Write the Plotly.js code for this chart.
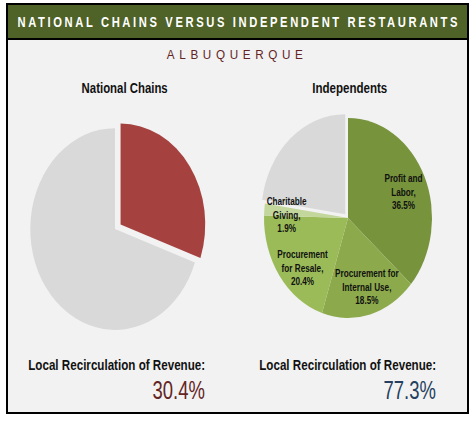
<!DOCTYPE html>
<html>
<head>
<meta charset="utf-8">
<script src="https://cdn.plot.ly/plotly-3.0.1.min.js"></script>
<style>
  html, body { margin: 0; padding: 0; background: #ffffff; }
  #chart { width: 474px; height: 423px; }
</style>
</head>
<body>
<div id="chart"></div>
<script>
// National chains: local share vs rest
var chainLabels = ["Local Recirculation", "Leaves Local Economy"];
var chainValues = [30.4, 69.6];
var chainColors = ["#a5423f", "#d9d9d9"];

// Independents, clockwise from 12 o'clock
var indieLabels = ["Profit and Labor", "Procurement for Internal Use", "Procurement for Resale", "Charitable Giving", "Leaves Local Economy"];
var indieValues = [36.5, 18.5, 20.4, 1.9, 22.7];
var indieColors = ["#77933c", "#8caa4c", "#9bbb59", "#c3d69b", "#d9d9d9"];
// how each slice label is broken into lines on the slide
var indieLabelLines = ["Profit and<br>Labor,", "Procurement for<br>Internal Use,", "Procurement<br>for Resale,", "Charitable<br>Giving,", ""];

var chainTotal = "30.4%";
var indieTotal = "77.3%";

var font = "Liberation Sans, Arial, sans-serif";
var W = 474, H = 423;
function px(x) { return x / W; }
function py(y) { return 1 - y / H; }

var chainsTrace = {
  type: "pie",
  labels: chainLabels,
  values: chainValues,
  marker: { colors: chainColors, line: { width: 0 } },
  sort: false,
  direction: "clockwise",
  rotation: 0,
  pull: [0.08, 0],
  textinfo: "none",
  hoverinfo: "label+value",
  domain: { x: [0.0127, 0.4726], y: [0.201, 0.716] },
  showlegend: false
};

var indieTrace = {
  type: "pie",
  labels: indieLabels,
  values: indieValues,
  textinfo: "none",
  marker: { colors: indieColors, line: { width: 0 } },
  sort: false,
  direction: "clockwise",
  rotation: 0,
  pull: [0, 0, 0, 0, 0.05],
  hoverinfo: "label+value",
  domain: { x: [0.5127, 0.9557], y: [0.2364, 0.7329] },
  showlegend: false
};

// the slide's pies are stretched upright; squeeze them around their centres
var pieCentres = [115, 348];
var pieSqueeze = 0.84;

// annotations plus a horizontal squeeze for each (the slide uses a narrow font)
var annotations = [];
var squeeze = [];
var origins = [];
function addText(text, x, y, anchor, size, color, sq) {
  annotations.push({ text: text, xref: "paper", yref: "paper", x: px(x), y: py(y),
    showarrow: false, xanchor: anchor, yanchor: "middle",
    font: { family: font, size: size, color: color } });
  squeeze.push(sq);
  origins.push(anchor === "right" ? "right center" : "center");
}

addText("<b>NATIONAL CHAINS VERSUS INDEPENDENT RESTAURANTS</b>", 237, 22, "center", 14, "#ffffff", 0.8);
addText("ALBUQUERQUE", 235, 55, "center", 13, "#632523", 0.9);
addText("<b>National Chains</b>", 124, 88, "center", 15, "#111111", 0.76);
addText("<b>Independents</b>", 350, 88, "center", 15, "#111111", 0.77);

// slice labels on the independents pie
var sliceSpots = [[403, 191], [367, 286], [302, 267], [287, 215]];
for (var i = 0; i < sliceSpots.length; i++) {
  addText("<b>" + indieLabelLines[i] + "<br>" + indieValues[i].toFixed(1) + "%</b>",
    sliceSpots[i][0], sliceSpots[i][1], "center", 10.5, "#111111", 0.78);
}

addText("<b>Local Recirculation of Revenue:</b>", 207, 365, "right", 14, "#111111", 0.83);
addText("<b>Local Recirculation of Revenue:</b>", 438, 365, "right", 14, "#111111", 0.83);
addText(chainTotal, 207, 390, "right", 25, "#632523", 0.74);
addText(indieTotal, 438, 390, "right", 25, "#243f60", 0.74);

var layout = {
  width: W,
  height: H,
  margin: { l: 0, r: 0, t: 0, b: 0 },
  paper_bgcolor: "#ffffff",
  plot_bgcolor: "rgba(0,0,0,0)",
  font: { family: font },
  shapes: [
    // panel
    { type: "rect", xref: "paper", yref: "paper", layer: "below",
      x0: px(7), x1: px(468), y0: py(413), y1: py(4),
      fillcolor: "#f2f2f2", line: { color: "#000000", width: 2 } },
    // header band
    { type: "rect", xref: "paper", yref: "paper", layer: "below",
      x0: px(7), x1: px(468), y0: py(39), y1: py(4),
      fillcolor: "#4f6228", line: { color: "#000000", width: 2 } }
  ],
  annotations: annotations
};

Plotly.newPlot("chart", [chainsTrace, indieTrace], layout, { displayModeBar: false, staticPlot: true })
  .then(function () {
    var pies = document.querySelectorAll(".pielayer .trace");
    for (var p = 0; p < pies.length; p++) {
      var cx = pieCentres[p];
      pies[p].setAttribute("transform",
        "translate(" + cx + ",0) scale(" + pieSqueeze + ",1) translate(" + (-cx) + ",0)");
    }

    var txt = document.querySelectorAll(".annotation-text");
    // spread the two letter-spaced headings to their width on the slide
    txt[0].setAttribute("textLength", 440 / squeeze[0]);
    txt[0].setAttribute("lengthAdjust", "spacing");
    txt[1].setAttribute("textLength", 136 / squeeze[1]);
    txt[1].setAttribute("lengthAdjust", "spacing");
    for (var k = 0; k < txt.length; k++) {
      txt[k].style.transformBox = "fill-box";
      txt[k].style.transformOrigin = origins[k];
      txt[k].style.transform = "scaleX(" + squeeze[k] + ")";
    }
  });
</script>
</body>
</html>
